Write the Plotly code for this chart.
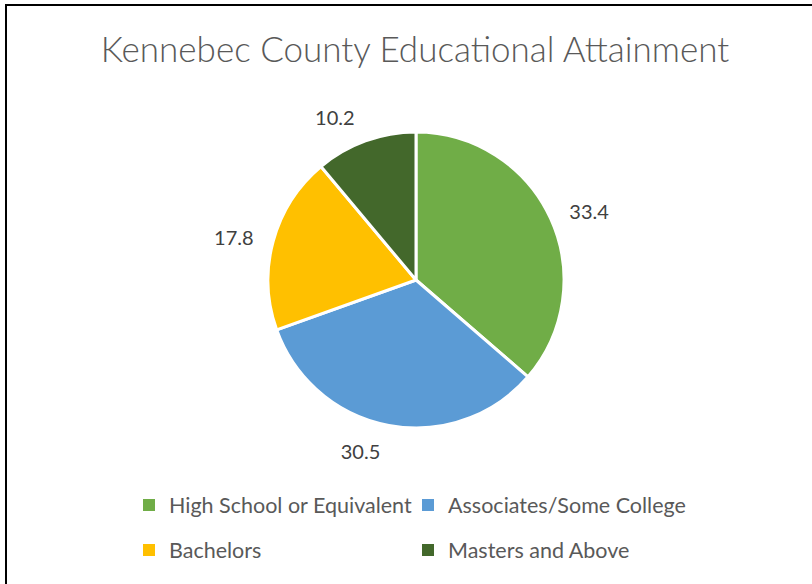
import plotly.graph_objects as go

categories = ["High School or Equivalent", "Associates/Some College", "Bachelors", "Masters and Above"]
values = [33.4, 30.5, 17.8, 10.2]
colors = ["#70AD47", "#5B9BD5", "#FFC000", "#43682B"]
title_text = "Kennebec County Educational Attainment"

W, H = 812, 584
cx, cy, r = 416, 280, 148
r_lab = 162  # radius of invisible ring used to place data labels further out


def dom(rad):
    return dict(x=[(cx - rad) / W, (cx + rad) / W], y=[1 - (cy + rad) / H, 1 - (cy - rad) / H])


common = dict(sort=False, direction="clockwise", rotation=0)
fig = go.Figure()

# legend carriers (tiny, hidden behind the main pie), split into two legend rows
for idx, leg in [([0, 1], "legend"), ([2, 3], "legend2")]:
    fig.add_trace(go.Pie(
        labels=[categories[i] for i in idx], values=[values[i] for i in idx],
        marker=dict(colors=[colors[i] for i in idx], line=dict(width=0)),
        textinfo="none", hoverinfo="skip", domain=dom(0.5), legend=leg, showlegend=True, **common))

# invisible ring carrying the outside data labels
fig.add_trace(go.Pie(
    labels=categories, values=values,
    marker=dict(colors=["rgba(0,0,0,0)"] * len(values), line=dict(width=0)),
    texttemplate="%{value}", textposition="outside",
    textfont=dict(family="Lato", size=20, color="#404040"),
    hoverinfo="skip", domain=dom(r_lab), showlegend=False, **common))

# main pie
fig.add_trace(go.Pie(
    labels=categories, values=values,
    marker=dict(colors=colors, line=dict(color="white", width=3)),
    textinfo="none", domain=dom(r), showlegend=False, **common))

leg_common = dict(orientation="h", x=129 / W, xanchor="left", yanchor="middle",
                  entrywidth=234, entrywidthmode="pixels", itemwidth=30,
                  font=dict(family="Lato", size=21.5, color="#595959"), bgcolor="rgba(0,0,0,0)")

fig.update_layout(
    width=W, height=H,
    margin=dict(l=0, r=0, t=0, b=0),
    paper_bgcolor="white",
    title=dict(text=title_text, x=415 / W, xanchor="center", y=1 - 50 / H, yanchor="middle",
               font=dict(family="Lato", size=35, color="#595959", weight=300)),
    legend=dict(y=1 - 505 / H, **leg_common),
    legend2=dict(y=1 - 550 / H, **leg_common),
    shapes=[dict(type="rect", xref="paper", yref="paper", x0=6 / W, x1=1.05, y0=-0.05, y1=1 - 5 / H,
                 line=dict(color="black", width=2))],
)

fig.write_html("out.html")
